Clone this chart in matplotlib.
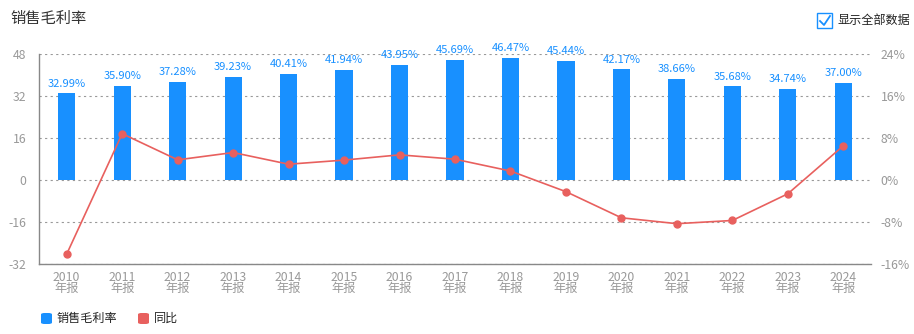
import matplotlib
matplotlib.use('Agg')
import matplotlib.pyplot as plt
from matplotlib.patches import FancyBboxPatch
from matplotlib.ticker import FixedLocator

plt.rcParams['font.family'] = ['Noto Sans CJK SC', 'DejaVu Sans']

years = ['2010', '2011', '2012', '2013', '2014', '2015', '2016', '2017',
         '2018', '2019', '2020', '2021', '2022', '2023', '2024']
margin = [32.99, 35.90, 37.28, 39.23, 40.41, 41.94, 43.95, 45.69,
          46.47, 45.44, 42.17, 38.66, 35.68, 34.74, 37.00]
yoy = [-14.1, 8.82, 3.84, 5.23, 3.01, 3.79, 4.79, 3.96,
       1.71, -2.22, -7.20, -8.32, -7.71, -2.63, 6.51]
left_ticks = [-32, -16, 0, 16, 32, 48]
right_ticks = [-16, -8, 0, 8, 16, 24]

blue = '#1890ff'
red = '#e8605e'
grey = '#999999'

W, H = 914, 334
fig = plt.figure(figsize=(W / 100, H / 100), dpi=100)
ax = fig.add_axes([39 / W, 1 - 264 / H, (871 - 39) / W, (264 - 54) / H])
ax2 = ax.twinx()

x = list(range(len(years)))
ax.bar(x, margin, width=0.31, color=blue, zorder=3)
for xi, v in zip(x, margin):
    ax.text(xi, v + 1.8, f'{v:.2f}%', ha='center', va='bottom',
            fontsize=8, color=blue, zorder=4)

ax.set_xlim(-0.5, len(years) - 0.5)
ax.set_ylim(-32, 48)
ax.yaxis.set_major_locator(FixedLocator(left_ticks))
ax.set_yticklabels([str(t) for t in left_ticks])
ax.set_xticks(x)
ax.set_xticklabels([f'{y}\n年报' for y in years], linespacing=0.85)
ax.tick_params(axis='both', length=0, colors=grey, labelsize=8.8)
ax.tick_params(axis='x', pad=5)
ax.tick_params(axis='y', pad=9)
ax.grid(axis='y', linestyle=(0, (2, 3)), color='#999999', linewidth=0.8, zorder=0)

for side in ['top', 'right']:
    ax.spines[side].set_visible(False)
for side in ['left', 'bottom']:
    ax.spines[side].set_color('#888888')
    ax.spines[side].set_linewidth(1.0)

ax2.plot(x, yoy, color=red, linewidth=1.2, marker='o', markersize=5, zorder=5)
ax2.set_ylim(-16, 24)
ax2.yaxis.set_major_locator(FixedLocator(right_ticks))
ax2.set_yticklabels([f'{t}%' for t in right_ticks])
ax2.tick_params(axis='y', length=0, colors=grey, labelsize=8.8, pad=7)
for side in ['top', 'right', 'left', 'bottom']:
    ax2.spines[side].set_visible(False)

# title
fig.text(10 / W, 1 - 18 / H, '销售毛利率', fontsize=11, color='#333333',
         va='center', ha='left')

# checkbox
fig.patches.append(FancyBboxPatch((817 / W, 1 - 28 / H), 15 / W, 15 / H,
                                  boxstyle='square,pad=0', transform=fig.transFigure,
                                  facecolor='white', edgecolor=blue, linewidth=1.0))
fig.lines.append(plt.Line2D([820 / W, 824 / W, 830 / W],
                            [1 - 21 / H, 1 - 25 / H, 1 - 16 / H],
                            transform=fig.transFigure, color=blue, linewidth=1.3))
fig.text(837 / W, 1 - 20 / H, '显示全部数据', fontsize=8.7, color='#222222',
         va='center', ha='left')

# legend
fig.patches.append(FancyBboxPatch((41 / W, 1 - 324 / H), 11 / W, 11 / H,
                                  boxstyle='round,pad=0,rounding_size=0.004',
                                  transform=fig.transFigure,
                                  facecolor=blue, edgecolor='none'))
fig.text(57 / W, 1 - 318.5 / H, '销售毛利率', fontsize=8.7, color='#222222',
         va='center', ha='left')
fig.patches.append(FancyBboxPatch((138 / W, 1 - 324 / H), 11 / W, 11 / H,
                                  boxstyle='round,pad=0,rounding_size=0.004',
                                  transform=fig.transFigure,
                                  facecolor=red, edgecolor='none'))
fig.text(154 / W, 1 - 318.5 / H, '同比', fontsize=8.7, color='#222222',
         va='center', ha='left')

fig.savefig('out.png', dpi=100)
